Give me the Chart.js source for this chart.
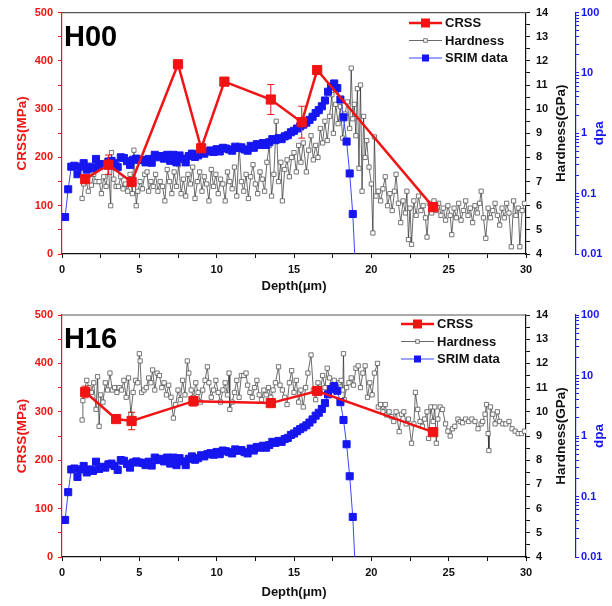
<!DOCTYPE html>
<html lang="en">
<head>
<meta charset="UTF-8">
<title>CRSS, Hardness and SRIM dpa vs depth</title>
<style>
    body { margin: 0; background: #fff; }
    canvas { display: block; }
</style>
<script src="https://cdn.jsdelivr.net/npm/chart.js"></script>
</head>
<body>
<canvas id="chartH00" width="612" height="300"></canvas>
<canvas id="chartH16" width="612" height="306"></canvas>
<script>
// ---- CRSS (micro-pillar) ----
const h00CrssDepth = [1.5, 3.0, 4.5, 7.5, 9.0, 10.5, 13.5, 15.5, 16.5, 24.0];
const h00Crss      = [155, 185, 149, 393, 219, 357, 320, 273, 381, 97];
const h00CrssErr   = [8, 20, 6, 5, 6, 5, 31, 33, 6, 6];

const h16CrssDepth = [1.5, 3.5, 4.5, 8.5, 13.5, 16.5, 24.0];
const h16Crss      = [341, 285, 281, 322, 318, 343, 258];
const h16CrssErr   = [12, 4, 18, 10, 5, 5, 6];

// ---- nano-hardness ----
const h00HardDepth = [1.3,1.4,1.55,1.7,1.9,2.05,2.2,2.4,2.55,2.7,2.85,3.0,3.15,3.2,3.35,3.5,3.65,3.8,3.95,4.1,4.25,4.4,4.55,4.65,4.8,4.9,
    5.05,5.2,5.35,5.5,5.6,5.75,5.9,6.05,6.2,6.35,6.5,6.65,6.8,6.95,7.1,7.25,7.4,7.55,7.7,7.85,8.0,8.15,8.3,8.45,8.6,8.75,8.9,9.05,9.2,9.35,9.5,9.65,9.8,9.95,
    10.1,10.25,10.4,10.55,10.7,10.85,11.0,11.15,11.3,11.45,11.6,11.75,11.9,12.05,12.2,12.35,12.5,12.65,12.8,12.95,13.1,13.25,13.4,13.55,13.7,13.85,14.0,14.15,14.25,14.4,14.55,14.7,14.85,
    15.0,15.15,15.3,15.45,15.6,15.8,15.95,16.1,16.25,16.4,16.55,16.7,16.85,17.0,17.15,17.3,17.45,17.55,17.7,17.85,18.0,18.15,18.3,18.45,18.6,18.7,18.8,
    18.9,19.0,19.1,19.2,19.3,19.4,19.5,19.6,19.7,19.85,20.0,20.1,20.2,20.3,
    20.45,20.6,20.75,20.9,21.05,21.2,21.35,21.5,21.6,21.75,21.9,22.05,22.2,22.3,22.4,22.5,22.6,22.75,22.9,23.05,23.2,23.35,23.5,23.6,23.75,23.9,
    24.05,24.2,24.35,24.5,24.65,24.8,24.95,25.1,25.2,25.35,25.5,25.65,25.8,25.95,26.1,26.25,26.4,26.55,26.7,26.85,27.0,27.1,27.25,27.4,27.55,27.7,27.85,
    28.0,28.15,28.3,28.45,28.6,28.75,28.9,29.05,29.2,29.35,29.5,29.6,29.75,29.9];
const h00Hard = [6.3,6.9,7.1,6.6,6.85,7.3,7.0,7.0,6.5,7.2,6.8,7.6,6.0,8.2,7.1,6.8,6.8,7.2,6.7,6.9,6.6,7.3,6.5,8.3,6.0,6.6,
    7.0,6.7,7.3,7.4,6.6,7.0,6.8,7.3,6.6,7.0,6.8,6.2,7.5,7.0,6.5,7.4,6.8,7.7,6.5,7.1,6.4,7.3,6.9,7.6,6.3,7.0,7.4,6.6,7.2,6.9,6.2,7.5,6.8,7.3,
    6.5,7.1,6.9,6.2,7.4,7.0,6.7,7.6,6.4,8.5,7.0,6.6,7.3,6.3,7.2,7.7,6.9,6.5,7.4,7.1,6.6,7.8,8.5,6.4,7.3,9.5,7.0,7.8,6.2,7.5,7.9,7.2,8.0,
    8.2,7.4,8.5,7.8,8.6,7.4,8.3,8.9,7.9,8.5,8.0,9.2,8.6,9.5,8.7,9.7,10.6,9.0,10.2,9.4,10.1,8.8,9.8,10.3,9.2,11.7,9.6,
    10.2,8.9,10.85,7.55,11.0,6.6,9.7,8.0,8.7,7.6,6.9,4.87,8.85,6.4,
    6.6,6.2,6.7,7.2,6.0,6.5,5.8,6.6,7.3,6.1,5.3,6.2,5.7,6.6,4.6,5.9,4.4,6.2,5.6,6.4,5.8,6.0,5.5,4.7,6.1,5.7,
    6.2,5.8,6.1,5.6,5.9,5.4,6.0,5.6,4.8,5.9,5.5,6.1,5.4,5.8,6.2,5.6,5.9,5.3,6.0,5.7,6.1,6.6,5.5,4.65,5.9,5.5,5.8,
    6.1,5.6,5.2,5.9,5.5,6.1,5.7,4.3,6.2,5.6,5.9,4.3,5.8,6.1];

const h16HardDepth = [1.3,1.35,1.45,1.6,1.75,1.9,2.05,2.2,2.3,2.4,2.5,2.65,2.8,2.95,3.1,3.25,3.4,3.55,3.7,3.85,4.0,4.15,4.3,4.45,4.6,4.75,4.9,5.0,5.05,
    5.15,5.3,5.45,5.6,5.75,5.86,6.0,6.15,6.3,6.45,6.6,6.75,6.9,7.05,7.2,7.35,7.5,7.65,7.8,7.95,8.1,8.2,8.35,8.5,8.65,8.8,8.95,9.1,9.25,9.4,9.5,9.65,9.8,9.95,
    10.1,10.25,10.4,10.55,10.7,10.8,10.85,11.0,11.15,11.3,11.45,11.6,11.75,11.9,12.0,12.15,12.3,12.45,12.6,12.75,12.9,13.05,13.2,13.35,13.5,13.65,13.8,14.0,
    14.1,14.25,14.4,14.55,14.7,14.85,15.0,15.15,15.3,15.45,15.6,15.75,15.9,16.1,16.25,16.4,16.55,16.7,16.85,17.0,17.15,17.3,17.45,17.6,17.75,17.9,
    18.05,18.15,18.2,18.25,18.4,18.55,18.7,18.85,19.0,19.15,19.3,19.45,19.6,19.75,19.9,20.05,20.2,20.4,20.45,20.6,20.75,20.9,21.0,21.15,21.3,21.45,21.6,21.8,
    21.95,22.1,22.25,22.4,22.6,22.75,22.85,23.0,23.15,23.3,23.45,23.6,23.7,23.85,24.0,24.1,24.2,24.3,24.45,24.6,24.8,24.95,25.1,25.25,25.4,25.6,25.75,25.9,
    26.1,26.3,26.5,26.7,26.9,27.1,27.2,27.35,27.45,27.55,27.6,27.7,27.85,28.0,28.15,28.3,28.5,28.7,28.9,29.1,29.3,29.5,29.7,29.9];
const h16Hard = [9.66,10.46,10.9,11.3,11.0,10.8,11.2,10.1,11.45,9.4,10.7,10.4,11.2,10.9,11.6,10.9,11.0,10.8,11.0,10.9,11.3,10.6,11.4,9.9,10.8,11.3,11.2,12.4,12.1,
    10.8,10.9,11.0,11.4,11.2,11.73,10.9,11.6,11.5,11.0,11.2,10.7,11.1,10.6,9.74,10.3,10.9,10.5,11.3,10.7,12.1,11.6,10.9,10.6,11.2,10.8,10.4,10.9,11.3,11.86,11.2,10.6,10.9,11.3,
    10.8,10.4,10.9,11.2,10.7,11.6,10.1,10.4,10.8,11.3,10.6,11.5,11.5,11.6,11.1,10.8,10.6,11.0,11.3,10.7,10.5,10.9,10.7,11.0,10.6,10.9,11.2,11.86,
    11.1,10.9,10.6,10.3,11.2,11.7,10.8,11.3,10.4,10.9,10.2,11.0,11.6,12.35,10.9,10.5,11.2,10.8,11.5,11.0,11.8,11.4,11.1,11.3,11.0,11.2,
    11.3,10.9,12.4,10.5,11.0,11.2,11.4,11.1,11.8,11.9,11.0,11.6,11.9,10.6,11.2,10.7,11.6,12.0,10.2,10.3,10.0,10.3,9.87,10.0,9.8,9.6,10.0,9.18,
    9.9,10.0,9.5,9.7,8.7,9.5,10.8,10.1,9.6,9.4,9.7,10.0,8.9,10.2,9.6,10.2,8.7,9.7,10.2,10.1,9.5,9.2,9.0,9.3,9.4,9.7,9.6,9.55,
    9.7,9.6,9.7,9.6,9.3,9.5,9.6,9.9,10.3,9.1,8.4,10.2,9.9,9.5,10.0,9.6,9.5,9.5,9.6,9.3,9.2,9.1,9.1,9.2];

// ---- SRIM damage profile (same for both samples) ----
const srimDepth = [0.2,0.4,0.6,0.8,1.0,1.2,1.4,1.6,1.8,2.0,2.2,2.4,2.6,2.8,3.0,3.2,3.4,3.6,3.8,4.0,4.2,4.4,4.6,4.8,5.0,
    5.2,5.4,5.6,5.8,6.0,6.2,6.4,6.6,6.8,7.0,7.2,7.4,7.6,7.8,8.0,8.2,8.4,8.6,8.8,9.0,9.2,9.4,9.6,9.8,10.0,
    10.2,10.4,10.6,10.8,11.0,11.2,11.4,11.6,11.8,12.0,12.2,12.4,12.6,12.8,13.0,13.2,13.4,13.6,13.8,14.0,14.2,14.4,14.6,14.8,
    15.0,15.2,15.4,15.6,15.8,16.0,16.2,16.4,16.6,16.8,17.0,17.2,17.4,17.6,17.8,18.0,18.2,18.4,18.6,18.8,19.0];
const srimDpa = [0.041,0.118,0.28,0.29,0.21,0.28,0.32,0.25,0.28,0.265,0.376,0.285,0.31,0.30,0.34,0.35,0.32,0.275,0.40,0.39,0.345,0.30,0.365,0.38,0.365,
    0.36,0.33,0.376,0.325,0.44,0.40,0.42,0.38,0.44,0.35,0.44,0.33,0.43,0.38,0.33,0.42,0.46,0.405,0.43,0.48,0.46,0.50,0.52,0.49,0.545,
    0.50,0.575,0.56,0.54,0.515,0.60,0.57,0.585,0.54,0.515,0.62,0.575,0.66,0.64,0.69,0.64,0.71,0.80,0.77,0.83,0.80,0.89,0.93,1.04,
    1.10,1.20,1.30,1.39,1.50,1.67,1.88,2.17,2.42,2.80,3.50,4.89,5.96,6.70,5.60,3.63,1.84,0.73,0.216,0.046,0.004];

// dpa axis: labelled decades, minor ticks at 2..9 in each decade
const dpaDecades = [0.01, 0.1, 1, 10, 100];

const FONT = '"Liberation Sans", Arial, sans-serif';
const RED = '#f01414';
const BLUE = '#1616f0';

function pts(xs, ys) {
    return xs.map((x, i) => ({x: x, y: ys[i]}));
}

// error bars, frame, rotated titles, legend and sample label
const panelPlugin = {
    id: 'panel',
    afterDatasetsDraw(chart) {
        const ds = chart.data.datasets[0];
        const xs = chart.scales.x, ys = chart.scales.yCrss;
        const ctx = chart.ctx;
        ctx.save();
        ctx.strokeStyle = RED;
        ctx.lineWidth = 1;
        ds.data.forEach((p, i) => {
            const e = ds.errorBars[i];
            const x = xs.getPixelForValue(p.x);
            const y1 = ys.getPixelForValue(p.y + e), y2 = ys.getPixelForValue(p.y - e);
            ctx.beginPath();
            ctx.moveTo(x, y1); ctx.lineTo(x, y2);
            ctx.moveTo(x - 3.5, y1); ctx.lineTo(x + 3.5, y1);
            ctx.moveTo(x - 3.5, y2); ctx.lineTo(x + 3.5, y2);
            ctx.stroke();
        });
        ctx.restore();
    },
    afterDraw(chart) {
        const opt = chart.options.plugins.panel;
        const ctx = chart.ctx;
        const a = chart.chartArea;
        const mid = (a.top + a.bottom) / 2;
        ctx.save();
        // top frame line
        ctx.strokeStyle = '#555';
        ctx.lineWidth = 1.2;
        ctx.beginPath();
        ctx.moveTo(a.left, a.top); ctx.lineTo(a.right, a.top);
        ctx.stroke();

        // rotated axis titles
        const titles = [
            ['CRSS(MPa)', chart.scales.yCrss.left + 22, RED],
            ['Hardness(GPa)', chart.scales.yHard.right - 15, '#111'],
            ['dpa', chart.scales.yDpa.right - 13, BLUE]
        ];
        ctx.font = 'bold 13.5px ' + FONT;
        ctx.textAlign = 'center';
        ctx.textBaseline = 'middle';
        titles.forEach(t => {
            ctx.save();
            ctx.translate(t[1], mid);
            ctx.rotate(-Math.PI / 2);
            ctx.fillStyle = t[2];
            ctx.fillText(t[0], 0, 0);
            ctx.restore();
        });

        // sample label
        ctx.font = 'bold 29px ' + FONT;
        ctx.textAlign = 'left';
        ctx.textBaseline = 'alphabetic';
        ctx.fillStyle = '#000';
        ctx.fillText(opt.label, a.left + 2, a.top + 33);

        // legend
        ctx.font = 'bold 13px ' + FONT;
        ctx.textBaseline = 'middle';
        [0, 1, 2].forEach((k, row) => {
            const ds = chart.data.datasets[k];
            const y = opt.legendY + row * 17.5;
            const x0 = opt.legendX;
            ctx.strokeStyle = ds.borderColor;
            ctx.lineWidth = ds.borderWidth;
            ctx.beginPath();
            ctx.moveTo(x0, y); ctx.lineTo(x0 + 33, y);
            ctx.stroke();
            const s = ds.legendMarker;
            ctx.fillStyle = ds.pointBackgroundColor;
            ctx.strokeStyle = ds.pointBorderColor;
            ctx.lineWidth = ds.pointBorderWidth;
            ctx.fillRect(x0 + 16.5 - s / 2, y - s / 2, s, s);
            ctx.strokeRect(x0 + 16.5 - s / 2, y - s / 2, s, s);
            ctx.fillStyle = '#111';
            ctx.fillText(ds.label, x0 + 36, y + 0.5);
        });
        ctx.restore();
    }
};

function makeChart(id, label, crssDepth, crss, crssErr, hardDepth, hard, legendX, legendY, topPad, xHeight) {
    const tickFont = {family: FONT, size: 11, weight: 'bold'};
    return new Chart(document.getElementById(id), {
        type: 'line',
        data: {
            datasets: [
                {
                    label: 'CRSS',
                    data: pts(crssDepth, crss),
                    errorBars: crssErr,
                    yAxisID: 'yCrss',
                    borderColor: RED,
                    borderWidth: 2.5,
                    pointStyle: 'rect',
                    pointRadius: 6.5,
                    pointBackgroundColor: RED,
                    pointBorderColor: RED,
                    pointBorderWidth: 1,
                    legendMarker: 8,
                    order: 0
                },
                {
                    label: 'Hardness',
                    data: pts(hardDepth, hard),
                    yAxisID: 'yHard',
                    borderColor: 'rgba(35,35,35,0.85)',
                    borderWidth: 0.8,
                    pointStyle: 'rect',
                    pointRadius: 3,
                    pointBackgroundColor: '#fff',
                    pointBorderColor: '#555',
                    pointBorderWidth: 0.8,
                    legendMarker: 3.5,
                    order: 2
                },
                {
                    label: 'SRIM data',
                    data: pts(srimDepth, srimDpa),
                    yAxisID: 'yDpa',
                    borderColor: '#3848ff',
                    borderWidth: 1,
                    pointStyle: 'rect',
                    pointRadius: 5,
                    pointBackgroundColor: BLUE,
                    pointBorderColor: BLUE,
                    pointBorderWidth: 1,
                    legendMarker: 6,
                    clip: 0,
                    order: 1
                }
            ]
        },
        options: {
            responsive: false,
            animation: false,
            layout: {padding: {top: topPad, left: 0, right: 0, bottom: 0}},
            plugins: {
                legend: {display: false},
                tooltip: {enabled: false},
                panel: {label: label, legendX: legendX, legendY: legendY}
            },
            scales: {
                x: {
                    type: 'linear',
                    min: 0, max: 30,
                    afterFit(s) { s.height = xHeight; },
                    ticks: {
                        stepSize: 2.5, autoSkip: false, maxRotation: 0, padding: 5,
                        color: '#111', font: tickFont,
                        callback: v => (v % 5 === 0 ? v : '')
                    },
                    grid: {drawOnChartArea: false, tickLength: 4, color: '#111'},
                    border: {color: '#111', width: 1.2},
                    title: {
                        display: true, text: 'Depth(μm)', color: '#111',
                        font: {family: FONT, size: 13, weight: 'bold'},
                        padding: {top: 0, bottom: 6}
                    }
                },
                yCrss: {
                    type: 'linear', position: 'left',
                    min: 0, max: 500,
                    afterFit(s) { s.width = 62; },
                    ticks: {
                        stepSize: 50, autoSkip: false, padding: 5,
                        color: RED, font: tickFont,
                        callback: v => (v % 100 === 0 ? v : '')
                    },
                    grid: {drawOnChartArea: false, tickLength: 4, color: RED},
                    border: {color: RED, width: 1.2}
                },
                yHard: {
                    type: 'linear', position: 'right', weight: 0,
                    min: 4, max: 14,
                    afterFit(s) { s.width = 50; },
                    ticks: {
                        stepSize: 0.5, autoSkip: false, padding: 6,
                        color: '#111', font: tickFont,
                        callback: v => (Number.isInteger(v) ? v : '')
                    },
                    grid: {drawOnChartArea: false, tickLength: 4, color: '#111'},
                    border: {color: '#111', width: 1.2}
                },
                yDpa: {
                    type: 'logarithmic', position: 'right', weight: 1,
                    min: 0.01, max: 100,
                    afterFit(s) { s.width = 36; },
                    afterBuildTicks(s) {
                        const t = [];
                        dpaDecades.forEach((d, i) => {
                            t.push({value: d, label: String(d)});
                            if (i < dpaDecades.length - 1) {
                                for (let m = 2; m <= 9; m++) t.push({value: +(d * m).toPrecision(3)});
                            }
                        });
                        s.ticks = t;
                    },
                    ticks: {
                        autoSkip: false, padding: 2,
                        color: BLUE, font: tickFont,
                        callback: v => (dpaDecades.includes(v) ? String(v) : '')
                    },
                    grid: {drawOnChartArea: false, tickLength: 3, color: BLUE},
                    border: {color: BLUE, width: 1.2}
                }
            }
        },
        plugins: [panelPlugin]
    });
}

makeChart('chartH00', 'H00', h00CrssDepth, h00Crss, h00CrssErr, h00HardDepth, h00Hard, 409, 23, 12, 46);
makeChart('chartH16', 'H16', h16CrssDepth, h16Crss, h16CrssErr, h16HardDepth, h16Hard, 401, 24, 15, 49);
</script>
</body>
</html>
